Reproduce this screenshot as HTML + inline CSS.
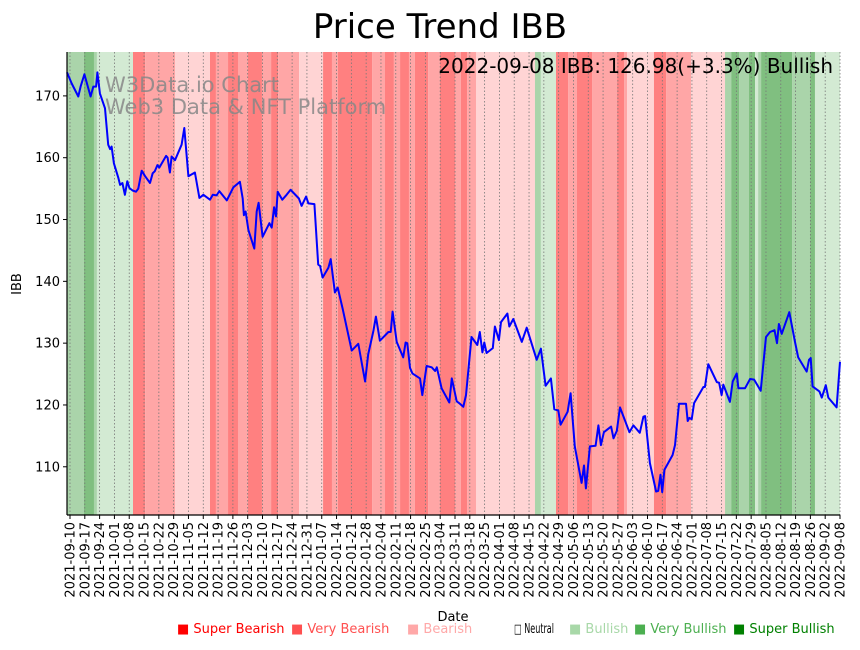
<!DOCTYPE html>
<html><head><meta charset="utf-8"><style>
body{margin:0;background:#fff;font-family:"DejaVu Sans","Liberation Sans",sans-serif}
svg text{font-family:"DejaVu Sans","Liberation Sans",sans-serif}
</style></head><body>
<svg id="chart" width="860" height="646" xmlns="http://www.w3.org/2000/svg">
<text x="440" y="38" font-size="34" text-anchor="middle">Price Trend IBB</text>
<g id="bands"></g>
<g id="grid"></g>
<text x="105" y="92" font-size="21" fill="#888" opacity="0.85">W3Data.io Chart</text>
<text x="105" y="114" font-size="21" fill="#888" opacity="0.85">Web3 Data &amp; NFT Platform</text>
<path id="line" fill="none" stroke="#0000ff" stroke-width="2" stroke-linejoin="round"/>
<text x="833" y="73" font-size="20" text-anchor="end">2022-09-08 IBB: 126.98(+3.3%) Bullish</text>
<g id="axes"></g>
<text transform="translate(21,284) rotate(-90)" font-size="13" text-anchor="middle">IBB</text>
<text x="453" y="621" font-size="13" text-anchor="middle">Date</text>
<g id="legend"></g>
</svg>
<script>
// band start day offsets (from 2021-09-10) and sentiment level (-3..3)
const bandStarts=[-1.5,6.6,11.3,12.7,29.7,35.4,49.5,66,68.8,74.5,79.2,83.9,90.5,94.8,98.1,108,119.3,123.5,126.3,142.4,148.5,152.7,155.6,159.8,162.6,168.8,174.4,181.5,184.3,187.2,191.4,219.2,222,229.1,234.8,239,246.1,257.9,261.2,262.6,275.3,281,292.8,308.8,311.7,315.4,320.1,323,324.4,325.8,340.4,348.9,351.2];
const bandLevels=[2,3,2,1,-3,-2,-1,-3,-2,-3,-2,-3,-2,-3,-2,-1,-3,-2,-3,-2,-3,-2,-3,-2,-3,-2,-3,-2,-3,-2,-1,2,1,-3,-2,-3,-2,-3,-2,-1,-3,-2,-1,2,3,2,3,1,2,3,2,3,1];
const bandEnd=363;
// price series: day offset and value
const days=[-1.6,0.8,3.9,5,6.8,9.7,11,12.3,12.9,14.1,16.5,18,18.9,19.6,20.7,22.8,23.6,24.7,25.9,27,28,29.5,31.1,32.2,33.8,35.4,37.7,39,40,41.2,42.1,45.3,46,47.1,47.9,49.5,52.6,53.9,55.8,58.9,61,62.9,66,67.3,69.1,70.4,73.9,77,80.1,81.4,82,82.8,84.1,86.9,88,88.9,90.8,94,95.1,96.2,97.1,97.9,100.1,102.1,104,107.9,109.2,111.3,112.4,115.2,117,117.9,119.1,121.8,122.9,124.9,126.2,128.5,132.8,135.9,139.1,140.6,143,144.2,146.1,150.1,151.2,152.1,154,157.1,158.2,159,160.3,161.4,165,166.1,168.1,170.5,172.1,172.9,175.2,178.8,180,182.3,183.8,185.4,186.7,189.3,192,193.2,194.4,195.3,196.4,199.3,200.3,202.2,203.2,206.2,207.1,209,213,215.3,220,222,224.2,226.7,228.3,230.2,231.3,234.6,236,238,241.2,242.3,243.2,245.1,247.8,249.1,250.3,251.7,255.1,256.2,257.8,259.3,263.7,265.6,268.6,270.3,271.1,273.4,276.3,277.3,278.4,279.2,280.2,284.1,285.2,287.1,290.4,291.2,292,293.1,294.2,298.6,299.3,300.9,304.9,306,307.2,308,311.1,312.4,314.3,315.1,318.2,320.6,322.5,325.6,328.1,330,332.1,333.3,334.2,335.5,339.1,341.8,343.3,347.3,348.4,349.2,350.1,353.3,354.4,356.3,357.5,361.4,363];
const prices=[173.8,172,169.9,171.5,173.5,169.9,171.5,171.5,173.8,170.4,168,162.1,161.4,161.8,159.1,156.7,155.6,155.9,154,156.2,155.1,154.7,154.5,155,157.9,157,155.9,157.5,157.8,158.8,158.4,160.3,160,157.6,160.2,159.6,162.1,164.8,157,157.6,153.5,154,153.2,154,153.9,154.6,153.1,155.2,156.1,153.4,150.7,151.3,148.3,145.3,151.3,152.7,147.2,149.4,148.7,152,150.5,154.5,153.2,154,154.8,153.4,152.2,153.7,152.6,152.5,142.7,142.5,140.6,142.2,143.6,138.2,139,135.6,128.8,129.9,123.8,128.2,131.9,134.3,130.4,131.8,131.8,135.1,130.2,127.7,130.1,130,126,125.1,124.3,121.6,126.3,126.1,125.5,126.1,122.7,120.4,124.3,120.6,120.2,119.7,121.6,131,129.7,131.8,128.5,130.1,128.4,129.2,132.7,130.5,133.4,134.8,132.7,133.9,130.2,132.5,127.3,129.1,123.1,124.3,119.3,119.1,116.8,118.9,121.9,113.3,107.4,110.2,106.5,113.3,113.4,116.7,113.5,115.6,116.5,114.6,115.8,119.6,115.6,116.7,115.5,118.1,118.2,110.6,106,106.1,108.7,105.9,109.5,111.9,113.5,120.2,120.2,117.4,117.9,117.7,120.3,122.9,122.9,126.6,123.7,123.6,121.6,123.3,120.5,123.8,125.1,122.7,122.7,124.2,124.1,122.3,131,131.8,132.1,130,133.1,131.5,135,130.2,127.7,125.4,127.3,127.6,123,122.2,121.2,123.2,121.2,119.6,126.98];
const yTicks=[110,120,130,140,150,160,170];
const tickLabels=[];
(function(){const s=new Date(Date.UTC(2021,8,10));for(let i=0;i<52;i++){const d=new Date(s.getTime()+i*7*864e5);tickLabels.push(d.toISOString().slice(0,10));}tickLabels.push('2022-09-08');})();
const NS='http://www.w3.org/2000/svg';
const L=67,R=840,T=52,B=515;
const x=d=>70+d*(770/363);
const yMin=102.2,yMax=177.1;
const y=v=>B-(v-yMin)/(yMax-yMin)*(B-T);
const colors={'-3':'#ff8080','-2':'#ffa6a6','-1':'#ffd4d4','1':'#d3ead3','2':'#aad4aa','3':'#80bf80'};
function mk(tag,attrs,parent){const e=document.createElementNS(NS,tag);for(const k in attrs)e.setAttribute(k,attrs[k]);parent.appendChild(e);return e;}
const gb=document.getElementById('bands');
for(let i=0;i<bandStarts.length;i++){
  const s=Math.max(L,x(bandStarts[i]));const e=Math.min(R,x(i+1<bandStarts.length?bandStarts[i+1]:bandEnd));
  const r=mk('rect',{x:s,y:T,width:Math.max(0,e-s),height:B-T,fill:colors[bandLevels[i]]},gb);
  
  
}
const gg=document.getElementById('grid'),ga=document.getElementById('axes');
tickLabels.forEach((lab,i)=>{
  const px=x(i*363/52);
  const g=mk('line',{x1:px,x2:px,y1:T,y2:B,stroke:'#777','stroke-width':0.8,'stroke-dasharray':'1.5,2'},gg);
  
  
  const t=mk('line',{x1:px,x2:px,y1:B,y2:B+4,stroke:'#000','stroke-width':1},ga);
  
  
  const tx=mk('text',{transform:`translate(${px+4.5},${B+7}) rotate(-90)`,'font-size':13,'text-anchor':'end'},ga);
  tx.textContent=lab;
  
  
});
yTicks.forEach(v=>{
  const py=y(v);
  const t=mk('line',{x1:L-4,x2:L,y1:py,y2:py,stroke:'#000','stroke-width':1},ga);
  
  
  const tx=mk('text',{x:L-7,y:py+4.5,'font-size':13,'text-anchor':'end'},ga);
  tx.textContent=v;
  
  
});
const ax1=mk('line',{x1:L,x2:L,y1:T,y2:B,stroke:'#000','stroke-width':1.2},ga);


const ax2=mk('line',{x1:L,x2:R,y1:B,y2:B,stroke:'#000','stroke-width':1.2},ga);


document.getElementById('line').setAttribute('d',days.map((d,i)=>(i?'L':'M')+Math.max(L,x(d)).toFixed(1)+','+y(prices[i]).toFixed(1)).join(''));
const legendLabels=['■ Super Bearish','■ Very Bearish','■ Bearish','□ Neutral','■ Bullish','■ Very Bullish','■ Super Bullish'];
const legendColors=['#ff0000','#ff5050','#ffa8a8','#000000','#a8d8a8','#4caf50','#008000'];
const legendX=[177,291,407,514,569,634,733];
const gl=document.getElementById('legend');
legendLabels.forEach((lab,i)=>{
  const t=mk('text',{x:legendX[i],y:633,'font-size':13,fill:legendColors[i]},gl);
  if(i===3){t.setAttribute('textLength','40');t.setAttribute('lengthAdjust','spacingAndGlyphs');}
  t.textContent=lab;
  
  
});
</script>
</body></html>
